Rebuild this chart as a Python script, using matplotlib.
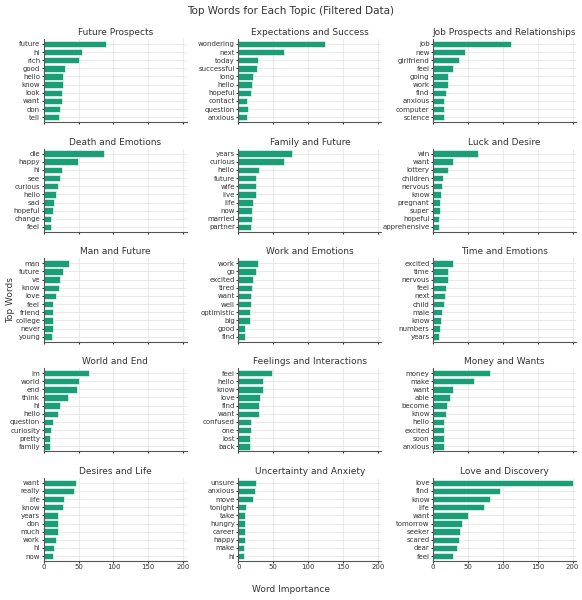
import matplotlib
matplotlib.use("Agg")
import matplotlib.pyplot as plt

titles = ["Future Prospects","Expectations and Success","Job Prospects and Relationships",
          "Death and Emotions","Family and Future","Luck and Desire",
          "Man and Future","Work and Emotions","Time and Emotions",
          "World and End","Feelings and Interactions","Money and Wants",
          "Desires and Life","Uncertainty and Anxiety","Love and Discovery"]
words = [
 ["future","hi","rich","good","hello","know","look","want","don","tell"],
 ["wondering","next","today","successful","long","hello","hopeful","contact","question","anxious"],
 ["job","new","girlfriend","feel","going","work","find","anxious","computer","science"],
 ["die","happy","hi","see","curious","hello","sad","hopeful","change","feel"],
 ["years","curious","hello","future","wife","live","life","now","married","partner"],
 ["win","want","lottery","children","nervous","know","pregnant","super","hopeful","apprehensive"],
 ["man","future","ve","know","love","feel","friend","college","never","young"],
 ["work","go","excited","tired","want","well","optimistic","big","good","find"],
 ["excited","time","nervous","feel","next","child","male","know","numbers","years"],
 ["im","world","end","think","hi","hello","question","curiosity","pretty","family"],
 ["feel","hello","know","love","find","want","confused","one","lost","back"],
 ["money","make","want","able","become","know","hello","excited","soon","anxious"],
 ["want","really","life","know","years","don","much","work","hi","now"],
 ["unsure","anxious","move","tonight","take","hungry","career","happy","make","hi"],
 ["love","find","know","life","want","tomorrow","seeker","scared","dear","feel"],
]
values = [
 [89,55,51,31,27,27,26,26,24,22],
 [124,66,28,27,21,19,18,13,14,12],
 [111,46,37,28,22,21,19,16,15,15],
 [86,49,26,23,20,18,15,13,11,11],
 [77,66,30,26,26,26,21,20,20,18],
 [64,28,21,14,13,12,10,10,9,8],
 [36,27,23,22,17,14,14,14,13,12],
 [28,25,21,19,18,18,17,16,10,10],
 [29,22,22,18,17,15,13,11,10,9],
 [65,51,48,35,23,20,14,10,9,9],
 [48,36,35,31,29,29,18,18,17,16],
 [81,58,28,25,20,18,16,16,15,15],
 [46,43,29,28,20,20,20,17,15,14],
 [26,24,21,11,10,9,9,9,8,8],
 [200,96,81,73,50,41,38,37,35,29],
]

fig, axes = plt.subplots(5, 3, figsize=(5.82, 6.0), dpi=100, sharex=True)
for i, ax in enumerate(axes.flat):
    w = words[i][::-1]; v = values[i][::-1]
    ax.barh(w, v, color="#1b9e77", edgecolor="white", linewidth=0.4, height=0.8)
    ax.set_title(titles[i], fontsize=6.5, color="#333333", pad=3)
    ax.set_xlim(0, 205)
    ax.set_xticks([0, 50, 100, 150, 200])
    ax.set_ylim(-0.6, 9.6)
    ax.tick_params(labelsize=5, length=1.5, pad=1, colors="#333333")
    ax.grid(True, color="#e5e5e5", linewidth=0.6)
    ax.set_axisbelow(True)
    for s in ["top", "right"]:
        ax.spines[s].set_visible(False)
    for s in ["left", "bottom"]:
        ax.spines[s].set_color("#555555")
        ax.spines[s].set_linewidth(0.8)
fig.suptitle("Top Words for Each Topic (Filtered Data)", fontsize=7.5, color="#333333", y=0.99)
fig.supxlabel("Word Importance", fontsize=6.5, color="#333333", y=0.01)
fig.supylabel("Top Words", fontsize=6.5, color="#333333", x=0.01)
fig.subplots_adjust(left=0.075, right=0.99, top=0.935, bottom=0.065, wspace=0.36, hspace=0.32)
fig.savefig("out.png", dpi=100)
